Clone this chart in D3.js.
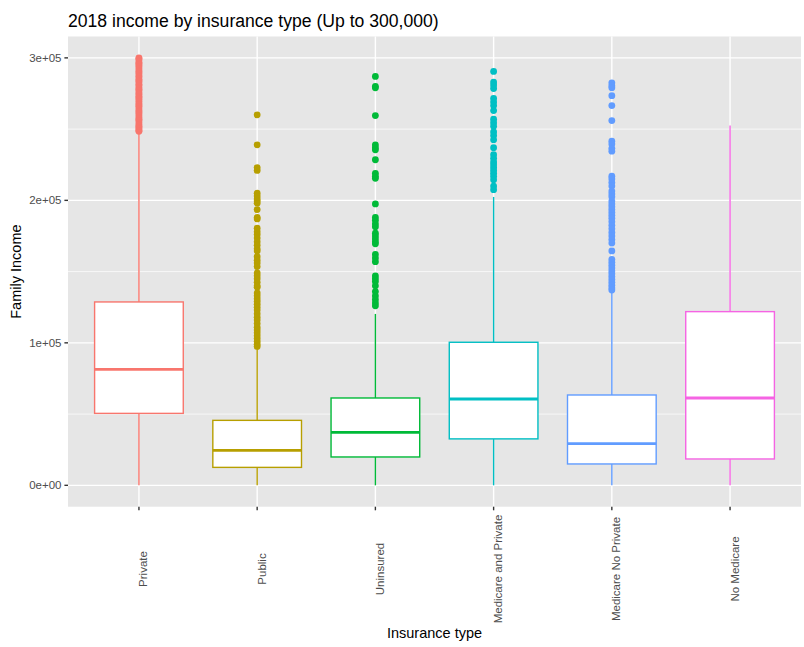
<!DOCTYPE html>
<html>
<head>
<meta charset="utf-8">
<script src="https://cdn.jsdelivr.net/npm/d3@7"></script>
<style>
  html, body { margin: 0; padding: 0; background: #ffffff; }
  svg { display: block; font-family: "Liberation Sans", Arial, Helvetica, sans-serif; }
</style>
</head>
<body>
<svg id="chart" width="804" height="647"></svg>
<script>
// Insurance categories and their fill colours (ggplot hue palette)
const categories = ["Private", "Public", "Uninsured", "Medicare and Private", "Medicare No Private", "No Medicare"];
const colors = ["#F8766D", "#B79F00", "#00BA38", "#00BFC4", "#619CFF", "#F564E3"];

// Box statistics per category (family income, dollars)
const whiskerLow  = [0, 0, 0, 0, 0, 0];
const q1          = [50500, 12600, 19900, 32600, 15000, 18500];
const medians     = [81400, 24600, 37200, 60600, 29300, 61300];
const q3          = [128700, 45600, 61300, 100400, 63400, 121900];
const whiskerHigh = [247300, 96000, 120300, 202400, 135500, 252600];

// Outlying incomes per category, in thousands of dollars
const outPrivate = [300, 299.5, 298.5, 297, 296, 295, 294, 292.5, 291, 290, 289, 287.5, 286.5, 285, 284, 283, 281.5, 280.5, 279, 278, 277, 275.5, 274.5, 273, 272, 271, 269.5, 268, 267, 266, 264.5, 263, 262, 261, 259.5, 258, 257, 256, 254.5, 253, 252, 251, 250, 249, 248.5];
const outPublic = [260, 239, 223, 221, 205, 203, 201, 199.5, 198, 193.5, 188, 187, 180.5, 178, 176, 173.5, 171, 168.5, 166, 164.5, 160.5, 158, 156, 153.5, 149, 147, 145, 142.5, 140, 139, 135, 133, 131, 129, 127, 125, 123, 120.5, 118, 116, 113.5, 111, 109, 107, 105, 103, 101, 99, 97.5];
const outUninsured = [287, 280, 279, 259.5, 239, 237, 235.5, 228.5, 219, 217, 215.5, 197.5, 188, 186, 183.5, 181.5, 177, 175, 173, 171, 169.5, 162, 159.5, 157, 147, 145, 143, 140, 136, 133, 130.5, 128, 126];
const outMedPriv = [290.5, 283, 281, 278.5, 271.5, 269, 266.5, 263, 257, 254.5, 252, 248, 245.5, 242.5, 237, 232, 229.5, 227, 225, 223, 221, 219, 217, 214.5, 210, 207.5];
const outMedNoPriv = [282.5, 280.5, 279, 273.5, 266.5, 256, 241.5, 239.5, 236.5, 234.5, 217, 215, 212.5, 210, 206.5, 204.5, 202.5, 199.5, 197.5, 195.5, 193.5, 191.5, 189.5, 187.5, 185, 182.5, 180, 177.5, 175, 172.5, 170, 164.5, 158.5, 156.5, 154.5, 152.5, 150.5, 148.5, 146.5, 144.5, 142.5, 140.5, 138.5, 137];
const outNoMedicare = [];
const outliers = [outPrivate, outPublic, outUninsured, outMedPriv, outMedNoPriv, outNoMedicare];

// Axis labels
const yTickValues = [0, 100000, 200000, 300000];
const yTickLabels = ["0e+00", "1e+05", "2e+05", "3e+05"];
const yMinorValues = [50000, 150000, 250000];
const titleText = "2018 income by insurance type (Up to 300,000)";
const xTitle = "Insurance type";
const yTitle = "Family Income";

const svg = d3.select("#chart");
const panel = { left: 68, right: 801, top: 36.5, bottom: 506.7 };

const x = d3.scalePoint().domain(categories).range([panel.left, panel.right]).padding(0.6);
const y = d3.scaleLinear().domain([-15000, 315000]).range([panel.bottom, panel.top]);
const boxW = x.step() * 0.75;

// Panel background
svg.append("rect")
  .attr("x", panel.left).attr("y", panel.top)
  .attr("width", panel.right - panel.left).attr("height", panel.bottom - panel.top)
  .attr("fill", "#E6E6E6");

// Grid lines
const grid = svg.append("g");
grid.selectAll("line.minor").data(yMinorValues).join("line")
  .attr("x1", panel.left).attr("x2", panel.right)
  .attr("y1", d => y(d)).attr("y2", d => y(d))
  .attr("stroke", "#ffffff").attr("stroke-width", 0.7);
grid.selectAll("line.majory").data(yTickValues).join("line")
  .attr("x1", panel.left).attr("x2", panel.right)
  .attr("y1", d => y(d)).attr("y2", d => y(d))
  .attr("stroke", "#ffffff").attr("stroke-width", 1.4);
grid.selectAll("line.majorx").data(categories).join("line")
  .attr("x1", d => x(d)).attr("x2", d => x(d))
  .attr("y1", panel.top).attr("y2", panel.bottom)
  .attr("stroke", "#ffffff").attr("stroke-width", 1.4);

// Boxplots
const boxData = categories.map((c, i) => ({
  cat: c, color: colors[i], lo: whiskerLow[i], q1: q1[i], med: medians[i], q3: q3[i], hi: whiskerHigh[i],
  out: outliers[i].map(v => v * 1000)
}));

const groups = svg.append("g").selectAll("g").data(boxData).join("g");

groups.append("line")
  .attr("x1", d => x(d.cat)).attr("x2", d => x(d.cat))
  .attr("y1", d => y(d.q3)).attr("y2", d => y(d.hi))
  .attr("stroke", d => d.color).attr("stroke-width", 1.4);
groups.append("line")
  .attr("x1", d => x(d.cat)).attr("x2", d => x(d.cat))
  .attr("y1", d => y(d.lo)).attr("y2", d => y(d.q1))
  .attr("stroke", d => d.color).attr("stroke-width", 1.4);
groups.append("rect")
  .attr("x", d => x(d.cat) - boxW / 2).attr("width", boxW)
  .attr("y", d => y(d.q3)).attr("height", d => y(d.q1) - y(d.q3))
  .attr("fill", "#ffffff").attr("stroke", d => d.color).attr("stroke-width", 1.4);
groups.append("line")
  .attr("x1", d => x(d.cat) - boxW / 2).attr("x2", d => x(d.cat) + boxW / 2)
  .attr("y1", d => y(d.med)).attr("y2", d => y(d.med))
  .attr("stroke", d => d.color).attr("stroke-width", 2.8);
groups.selectAll("circle").data(d => d.out.map(v => ({ v, cat: d.cat, color: d.color }))).join("circle")
  .attr("cx", d => x(d.cat)).attr("cy", d => y(d.v)).attr("r", 3.4)
  .attr("fill", d => d.color);

// Y axis ticks and labels
const yAxis = svg.append("g");
yAxis.selectAll("line").data(yTickValues).join("line")
  .attr("x1", panel.left - 3.6).attr("x2", panel.left)
  .attr("y1", d => y(d)).attr("y2", d => y(d))
  .attr("stroke", "#333333").attr("stroke-width", 1.4);
yAxis.selectAll("text").data(yTickValues).join("text")
  .attr("x", panel.left - 6.5).attr("y", d => y(d)).attr("dy", "0.36em")
  .attr("text-anchor", "end").attr("font-size", "11.5px").attr("fill", "#4D4D4D")
  .text((d, i) => yTickLabels[i]);

// X axis ticks and labels
const xAxis = svg.append("g");
xAxis.selectAll("line").data(categories).join("line")
  .attr("x1", d => x(d)).attr("x2", d => x(d))
  .attr("y1", panel.bottom).attr("y2", panel.bottom + 3.6)
  .attr("stroke", "#333333").attr("stroke-width", 1.4);
xAxis.selectAll("text").data(categories).join("text")
  .attr("transform", d => `translate(${x(d) + 8.5},569) rotate(-90)`)
  .attr("text-anchor", "middle").attr("font-size", "11.5px").attr("fill", "#4D4D4D")
  .text(d => d);

// Titles
svg.append("text")
  .attr("x", panel.left).attr("y", 26.7)
  .attr("font-size", "17.6px").attr("fill", "#000000")
  .text(titleText);
svg.append("text")
  .attr("x", (panel.left + panel.right) / 2).attr("y", 638)
  .attr("text-anchor", "middle").attr("font-size", "14.5px").attr("fill", "#000000")
  .text(xTitle);
svg.append("text")
  .attr("transform", `translate(20.5,${(panel.top + panel.bottom) / 2}) rotate(-90)`)
  .attr("text-anchor", "middle").attr("font-size", "14.5px").attr("fill", "#000000")
  .text(yTitle);
</script>
</body>
</html>
